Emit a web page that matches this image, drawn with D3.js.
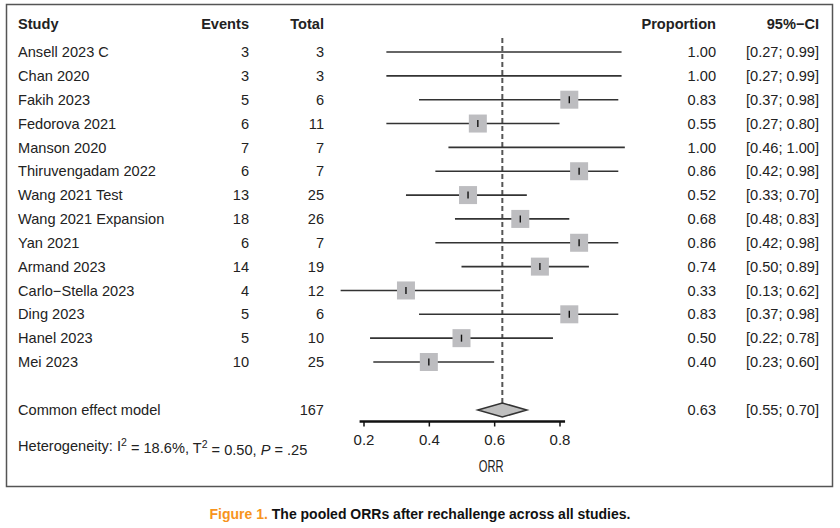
<!DOCTYPE html>
<html>
<head>
<meta charset="utf-8">
<script src="https://cdn.jsdelivr.net/npm/d3@7"></script>
<style>
  body { margin: 0; background: #fff; }
  svg text { font-family: "Liberation Sans", Arial, sans-serif; fill: #222; }
</style>
</head>
<body>
<div id="chart"></div>
<script>
// study rows
const studies = ["Ansell 2023 C", "Chan 2020", "Fakih 2023", "Fedorova 2021", "Manson 2020",
  "Thiruvengadam 2022", "Wang 2021 Test", "Wang 2021 Expansion", "Yan 2021", "Armand 2023",
  "Carlo\u2212Stella 2023", "Ding 2023", "Hanel 2023", "Mei 2023"]
const events = [3, 3, 5, 6, 7, 6, 13, 18, 6, 14, 4, 5, 5, 10]
const totals = [3, 3, 6, 11, 7, 7, 25, 26, 7, 19, 12, 6, 10, 25]
const proportion = [1.00, 1.00, 0.83, 0.55, 1.00, 0.86, 0.52, 0.68, 0.86, 0.74, 0.33, 0.83, 0.50, 0.40]
const ciLow = [0.27, 0.27, 0.37, 0.27, 0.46, 0.42, 0.33, 0.48, 0.42, 0.50, 0.13, 0.37, 0.22, 0.23]
const ciHigh = [0.99, 0.99, 0.98, 0.80, 1.00, 0.98, 0.70, 0.83, 0.98, 0.89, 0.62, 0.98, 0.78, 0.60]

// pooled (common effect) estimate
const pooledTotal = 167
const pooled = 0.625
const pooledLow = 0.55
const pooledHigh = 0.70

const tickValues = [0.2, 0.4, 0.6, 0.8]

const width = 840, height = 528

const svg = d3.select('#chart').append('svg')
    .attr('width', width)
    .attr('height', height)

// frame
svg.append('rect').attr('x', 6.5).attr('y', 4.5).attr('width', 826).attr('height', 482)
    .attr('fill', 'none').attr('stroke', '#555').attr('stroke-width', 1.5)

let rows = studies.map((s, i) => ({
    study: s, events: events[i], total: totals[i],
    p: proportion[i], lo: ciLow[i], hi: ciHigh[i]
}))

let x = d3.scaleLinear().domain([0.2, 0.8]).range([363.5, 559.5])
let y = d3.scalePoint().domain(studies).range([52, 362])

const yHead = 24, yPooled = 410, yAxis = 421.5
const fmt = d3.format('.2f')
const fs = '14.6px'

// column headers
let head = svg.append('g').style('font-size', fs).style('font-weight', 'bold')
head.append('text').attr('x', 18).attr('y', yHead).attr('dy', '0.35em').text('Study')
head.append('text').attr('x', 249).attr('y', yHead).attr('dy', '0.35em').attr('text-anchor', 'end').text('Events')
head.append('text').attr('x', 324).attr('y', yHead).attr('dy', '0.35em').attr('text-anchor', 'end').text('Total')
head.append('text').attr('x', 716).attr('y', yHead).attr('dy', '0.35em').attr('text-anchor', 'end').text('Proportion')
head.append('text').attr('x', 819).attr('y', yHead).attr('dy', '0.35em').attr('text-anchor', 'end').text('95%\u2212CI')

// text columns
let tbl = svg.append('g').style('font-size', fs)
let row = tbl.selectAll('g.row').data(rows).enter().append('g').attr('class', 'row')
    .attr('transform', d => 'translate(0,' + y(d.study) + ')')
row.append('text').attr('x', 18).attr('dy', '0.35em').text(d => d.study)
row.append('text').attr('x', 249).attr('dy', '0.35em').attr('text-anchor', 'end').text(d => d.events)
row.append('text').attr('x', 324).attr('dy', '0.35em').attr('text-anchor', 'end').text(d => d.total)
row.append('text').attr('x', 716).attr('dy', '0.35em').attr('text-anchor', 'end').text(d => fmt(d.p))
row.append('text').attr('x', 819).attr('dy', '0.35em').attr('text-anchor', 'end')
    .text(d => '[' + fmt(d.lo) + '; ' + fmt(d.hi) + ']')

// pooled row text
tbl.append('text').attr('x', 18).attr('y', yPooled).attr('dy', '0.35em').text('Common effect model')
tbl.append('text').attr('x', 324).attr('y', yPooled).attr('dy', '0.35em').attr('text-anchor', 'end').text(pooledTotal)
tbl.append('text').attr('x', 716).attr('y', yPooled).attr('dy', '0.35em').attr('text-anchor', 'end').text(fmt(pooled))
tbl.append('text').attr('x', 819).attr('y', yPooled).attr('dy', '0.35em').attr('text-anchor', 'end')
    .text('[' + fmt(pooledLow) + '; ' + fmt(pooledHigh) + ']')

// heterogeneity line
let het = tbl.append('text').attr('x', 18).attr('y', 446).attr('dy', '0.35em')
het.append('tspan').text('Heterogeneity: I')
het.append('tspan').attr('dy', '-0.45em').style('font-size', '10.5px').text('2')
het.append('tspan').attr('dy', '0.45em').text(' = 18.6%, T')
het.append('tspan').attr('dy', '-0.45em').style('font-size', '10.5px').text('2')
het.append('tspan').attr('dy', '0.45em').text(' = 0.50, ')
het.append('tspan').style('font-style', 'italic').text('P')
het.append('tspan').text(' = .25')

// reference line at pooled estimate
svg.append('line').attr('x1', x(pooled)).attr('x2', x(pooled)).attr('y1', 38).attr('y2', yPooled - 7)
    .attr('stroke', '#555').attr('stroke-width', 2).attr('stroke-dasharray', '5,3')

// CI lines
let plot = svg.append('g')
plot.selectAll('line.ci').data(rows).enter().append('line').attr('class', 'ci')
    .attr('x1', d => x(d.lo)).attr('x2', d => x(d.hi))
    .attr('y1', d => y(d.study)).attr('y2', d => y(d.study))
    .attr('stroke', '#333').attr('stroke-width', 1.6)

// squares (not drawn where the estimate sits at 1)
let pts = rows.filter(d => d.p < 1)
plot.selectAll('rect.sq').data(pts).enter().append('rect').attr('class', 'sq')
    .attr('x', d => x(d.p) - 9).attr('y', d => y(d.study) - 9)
    .attr('width', 18).attr('height', 18)
    .attr('fill', '#bdbdc0')
plot.selectAll('line.est').data(pts).enter().append('line').attr('class', 'est')
    .attr('x1', d => x(d.p)).attr('x2', d => x(d.p))
    .attr('y1', d => y(d.study) - 3.5).attr('y2', d => y(d.study) + 3.5)
    .attr('stroke', '#111').attr('stroke-width', 1.4)

// diamond
plot.append('path')
    .attr('d', 'M' + x(pooledLow) + ',' + yPooled + 'L' + x(pooled) + ',' + (yPooled - 7) +
        'L' + x(pooledHigh) + ',' + yPooled + 'L' + x(pooled) + ',' + (yPooled + 7) + 'Z')
    .attr('fill', '#bfbfbf').attr('stroke', '#333').attr('stroke-width', 1.5)

// x axis
let axis = svg.append('g').attr('transform', 'translate(0,' + yAxis + ')')
    .call(d3.axisBottom(x).tickValues(tickValues).tickSizeOuter(0).tickSize(5).tickPadding(8)
        .tickFormat(d3.format('.1f')))
axis.select('.domain').attr('d', 'M' + x(0.188) + ',0H' + x(0.817))
    .attr('stroke', '#111').attr('stroke-width', 2.5)
axis.selectAll('.tick line').attr('stroke', '#111').attr('stroke-width', 1.5)
axis.selectAll('.tick text').style('font-size', '15px').attr('fill', '#222')
    .style('font-family', '"Liberation Sans", Arial, sans-serif')

// axis title, condensed
svg.append('text').attr('text-anchor', 'middle')
    .attr('transform', 'translate(' + (x(0.6) - 3) + ',472) scale(0.68,1)')
    .style('font-size', '16.5px')
    .text('ORR')

// caption
let cap = svg.append('text').attr('x', 420).attr('y', 514).attr('dy', '0.35em').attr('text-anchor', 'middle')
    .style('font-size', '14px').style('font-weight', 'bold')
cap.append('tspan').style('fill', '#f7941d').text('Figure 1. ')
cap.append('tspan').style('fill', '#111').text('The pooled ORRs after rechallenge across all studies.')
</script>
</body>
</html>
